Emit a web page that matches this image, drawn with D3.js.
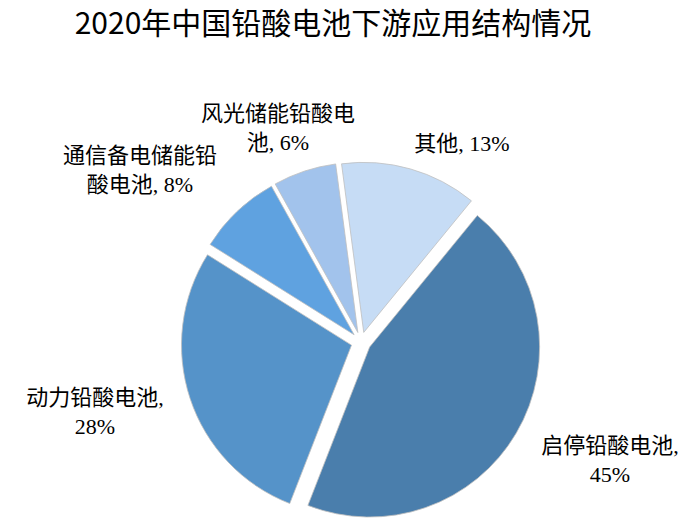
<!DOCTYPE html>
<html>
<head>
<meta charset="utf-8">
<script src="https://cdn.jsdelivr.net/npm/d3@7"></script>
<style>
  body { margin: 0; background: #fff; }
  svg text { fill: #000; }
</style>
</head>
<body>
<svg id="chart"></svg>
<script>
// 数据 (clockwise, first slice starts a little left of 12 o'clock)
var names = ["其他", "启停铅酸电池", "动力铅酸电池", "通信备电储能铅酸电池", "风光储能铅酸电池"];
var values = [13, 45, 28, 8, 6];
var colors = ["#c6dcf5", "#4a7eac", "#5593c9", "#5fa2e0", "#a2c3ec"];
// label lines as wrapped in the picture
var labelLines = [
  ["其他, 13%"],
  ["启停铅酸电池,", "45%"],
  ["动力铅酸电池,", "28%"],
  ["通信备电储能铅", "酸电池, 8%"],
  ["风光储能铅酸电", "池, 6%"]
];
var labelPos = [[462, 151], [610, 453], [95, 405], [140, 163], [278, 121]];

var w = 700, h = 530;
var cx = 361, cy = 342;
var radius = 170;
var explode = 10;
var start = -7.5 * Math.PI / 180;

var svg = d3.select("#chart")
  .attr("width", w)
  .attr("height", h);

svg.append("text")
  .attr("x", 333)
  .attr("y", 34)
  .attr("text-anchor", "middle")
  .style("font-family", "'Noto Sans CJK SC', sans-serif")
  .style("font-size", "30px")
  .text("2020年中国铅酸电池下游应用结构情况");

var pie = d3.pie().sort(null)
  .startAngle(start)
  .endAngle(start + 2 * Math.PI)
  .value(function(d){ return d; });
var arc = d3.arc().innerRadius(0).outerRadius(radius);

var arcs = pie(values);

var g = svg.append("g")
  .attr("transform", "translate(" + cx + "," + cy + ")");

g.selectAll("path")
  .data(arcs)
  .enter()
  .append("path")
    .attr("d", arc)
    .attr("transform", function(d){
      var a = (d.startAngle + d.endAngle) / 2;
      return "translate(" + (Math.sin(a) * explode) + "," + (-Math.cos(a) * explode) + ")";
    })
    .attr("fill", function(d, i){ return colors[i]; })
    .attr("stroke", "#bfbfbf")
    .attr("stroke-width", 0.8);

var labels = svg.selectAll("text.lbl")
  .data(labelLines)
  .enter()
  .append("text")
    .attr("class", "lbl")
    .attr("text-anchor", "middle")
    .style("font-family", "'Liberation Serif', 'Noto Sans CJK SC', serif")
    .style("font-size", "22px");

labels.selectAll("tspan")
  .data(function(d, i){ return d.map(function(s){ return {s: s, i: i}; }); })
  .enter()
  .append("tspan")
    .attr("x", function(d){ return labelPos[d.i][0]; })
    .attr("y", function(d, j){ return labelPos[d.i][1] + j * 29; })
    .text(function(d){ return d.s; });
</script>
</body>
</html>
